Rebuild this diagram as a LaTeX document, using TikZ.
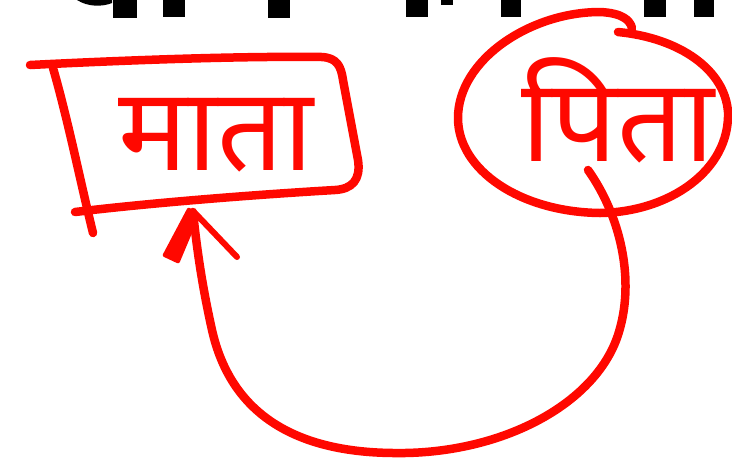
\documentclass[tikz,border=0pt]{standalone}
\usepackage{fontspec}
\newfontfamily\deva[Script=Devanagari]{Noto Sans}
\definecolor{inkred}{RGB}{255,8,0}
\begin{document}
\begin{tikzpicture}[x=1pt,y=-1pt,
  ink/.style={draw=inkred,line width=8.5pt,line cap=round,line join=round},
  word/.style={text=inkred,font=\deva\fontsize{116}{130}\selectfont,inner sep=0pt},
  topglyph/.style={fill=black}]
\useasboundingbox (0,0) rectangle (732,459);
% cut-off black text at the top edge
\fill[topglyph] (77,0) .. controls (88,7) and (102,7) .. (112,3) -- (112,0) -- cycle;
\fill[topglyph] (113,0) rectangle (137,18);
\fill[topglyph] (163,0) rectangle (185,17);
\fill[topglyph] (268,0) rectangle (290,18);
\fill[topglyph] (406,0) rectangle (428,17);
\fill[topglyph] (441,0) rectangle (453,5);
\fill[topglyph] (501,0) rectangle (521,17);
\fill[topglyph] (644,0) rectangle (666,17);
\fill[topglyph] (694,0) rectangle (714,17);
% words
\node[word] (mata) at (216,135) {माता};
\node[word] (pita) at (618,110) {पिता};
% box round mata
\draw[ink] (30,65) .. controls (130,60) and (240,56) .. (322,57)
  .. controls (337,58) and (341,66) .. (343,80)
  -- (358,160) .. controls (361,180) and (352,189) .. (335,190)
  .. controls (250,195) and (150,203) .. (75,212);
\draw[ink] (53,68) .. controls (68,120) and (80,180) .. (93,233);
% circle round pita
\draw[ink] (618,32) .. controls (680,38) and (725,70) .. (728,112)
  .. controls (730,170) and (670,212) .. (600,213)
  .. controls (520,212) and (458,170) .. (458,118)
  .. controls (458,60) and (530,12) .. (600,12)
  .. controls (622,13) and (630,20) .. (632,28);
% arrow from pita to mata
\coordinate (tail) at (588,170);
\coordinate (tip) at (193,212);
\draw[ink] (tail) .. controls (620,215) and (636,280) .. (618,335)
  .. controls (595,405) and (500,455) .. (393,453)
  .. controls (290,452) and (230,410) .. (212,330)
  .. controls (202,285) and (197,250) .. (tip);
\fill[inkred,rounded corners=2pt] (188,207) -- (200,214) -- (179,264) -- (162,256) -- cycle;
\draw[ink,line width=6pt] (195,213) -- (237,257);
\end{tikzpicture}
\end{document}
